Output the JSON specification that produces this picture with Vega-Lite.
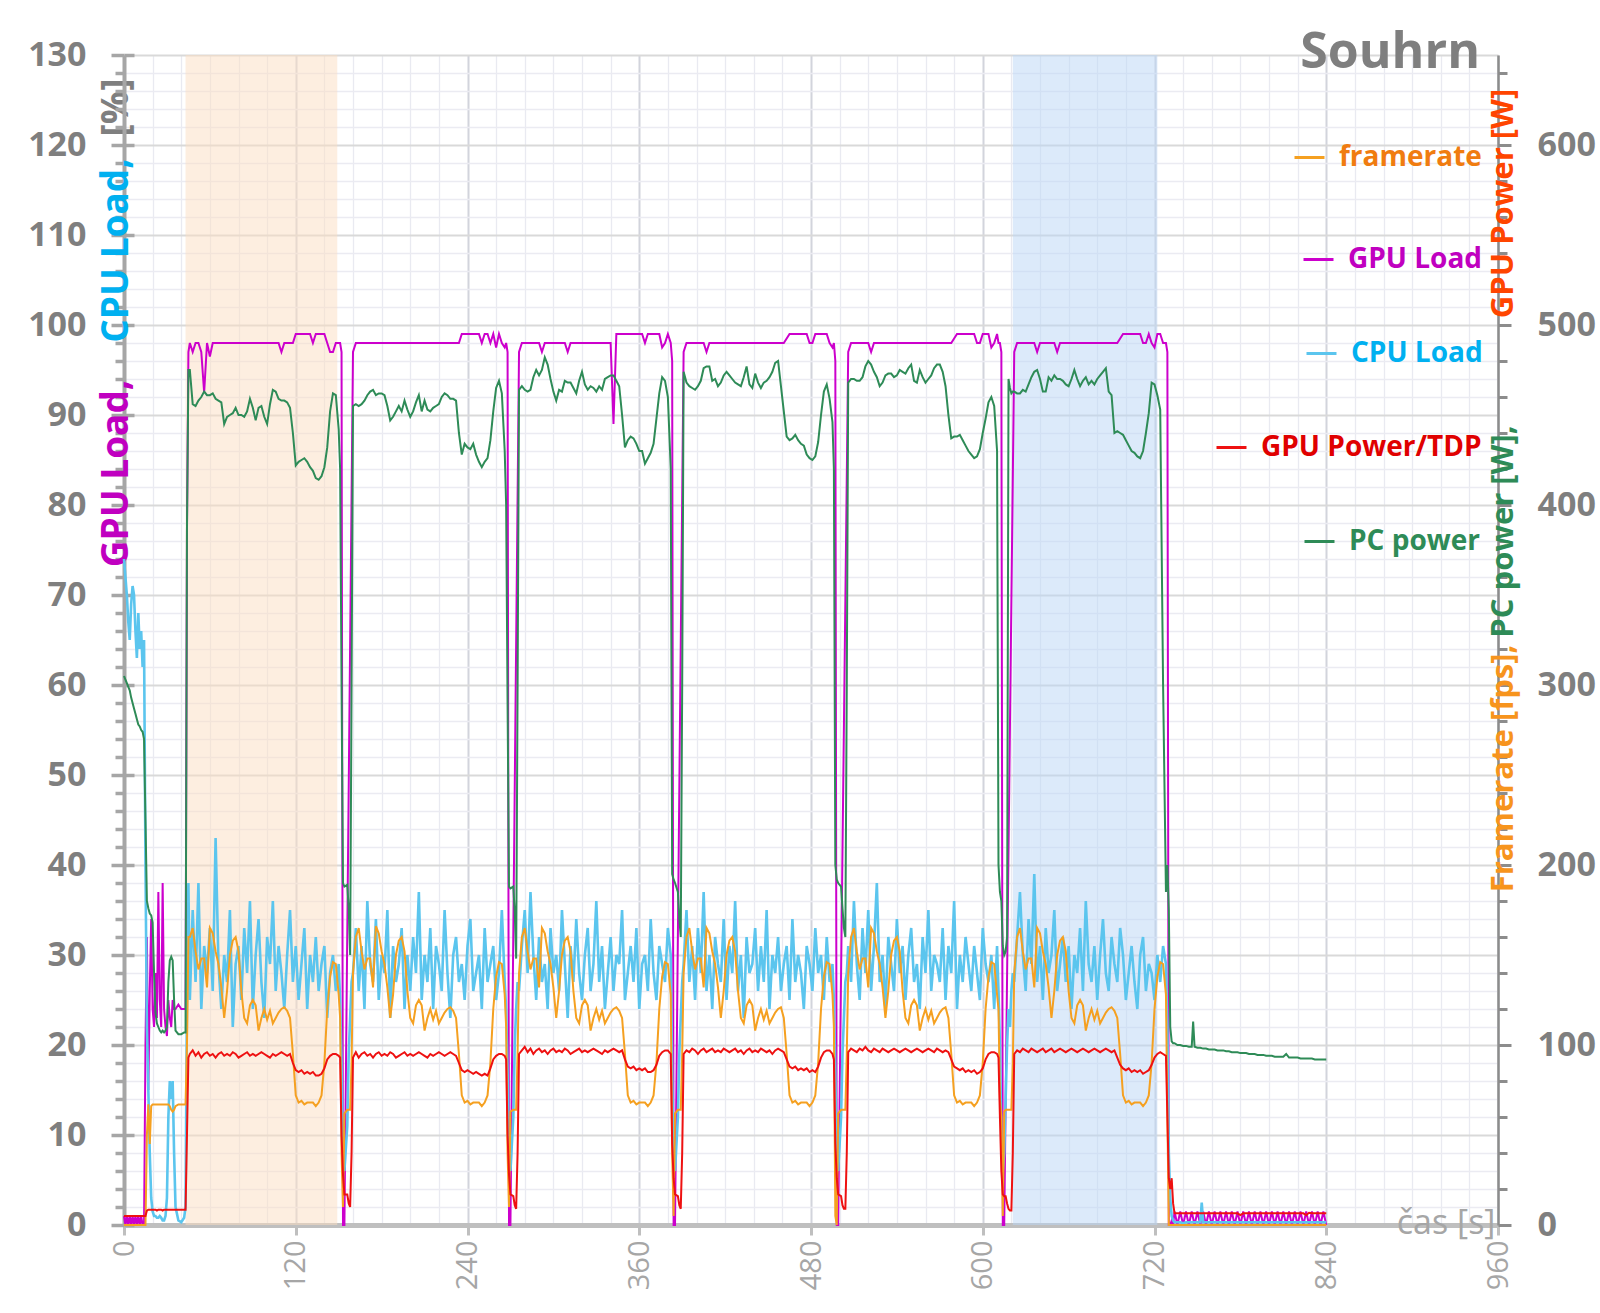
{
"$schema": "https://vega.github.io/schema/vega-lite/v6.json",
"width": 1374,
"height": 1170,
"autosize": {"type": "none"},
"padding": {"left": 124, "top": 55, "right": 102, "bottom": 88},
"background": "white",
"title": {"text": "Souhrn", "anchor": "end", "frame": "group", "orient": "top", "offset": 0, "baseline": "alphabetic", "dy": 80, "dx": -18, "fontSize": 50, "fontWeight": "bold", "color": "#7f7f7f", "font": "Open Sans"},
"config": {
  "view": {"stroke": null},
  "font": "Open Sans",
  "axis": {"labelFont": "Open Sans", "titleFont": "Open Sans"},
  "legend": {"symbolType": "stroke", "symbolSize": 900, "symbolStrokeWidth": 3, "labelFont": "Open Sans", "labelFontSize": 28, "labelFontWeight": "bold", "labelOffset": 13, "padding": 0, "labelLimit": 400}
},
"datasets": {
  "regions": [
    {"t": 43, "t2": 149, "phase": "orange"},
    {"t": 621, "t2": 722, "phase": "blue"}
  ],
  "series": [
{"t":0,"gpu":1,"cpu":74,"fps":0,"gpw":5,"pcw":305},
{"t":1,"gpu":0,"cpu":72,"fps":0,"gpw":5,"pcw":303},
{"t":2,"gpu":1,"cpu":70,"fps":0,"gpw":5,"pcw":301},
{"t":3,"gpu":0,"cpu":67,"fps":0,"gpw":5,"pcw":299},
{"t":4,"gpu":1,"cpu":65,"fps":0,"gpw":5,"pcw":297},
{"t":5,"gpu":0,"cpu":69,"fps":0,"gpw":5,"pcw":293},
{"t":6,"gpu":1,"cpu":71,"fps":0,"gpw":5,"pcw":290},
{"t":7,"gpu":0,"cpu":70,"fps":0,"gpw":5,"pcw":287},
{"t":8,"gpu":1,"cpu":66,"fps":0,"gpw":5,"pcw":284},
{"t":9,"gpu":0,"cpu":63,"fps":0,"gpw":5,"pcw":281},
{"t":10,"gpu":1,"cpu":68,"fps":0,"gpw":5,"pcw":278},
{"t":11,"gpu":0,"cpu":64,"fps":0,"gpw":5,"pcw":277},
{"t":12,"gpu":1,"cpu":66,"fps":0,"gpw":5,"pcw":275},
{"t":13,"gpu":0,"cpu":62,"fps":0,"gpw":5,"pcw":274},
{"t":14,"gpu":0,"cpu":65,"fps":0,"gpw":5,"pcw":270},
{"t":15,"gpu":20,"cpu":40,"fps":0,"gpw":5,"pcw":225},
{"t":16,"gpu":32,"cpu":22,"fps":50,"gpw":8,"pcw":180},
{"t":17,"gpu":15,"cpu":15,"fps":67,"gpw":8.5,"pcw":176},
{"t":18,"gpu":26,"cpu":8,"fps":45,"gpw":8.5,"pcw":173},
{"t":19,"gpu":34,"cpu":3,"fps":66,"gpw":8.5,"pcw":172},
{"t":20,"gpu":24,"cpu":1.5,"fps":67,"gpw":8.5,"pcw":168},
{"t":21,"gpu":22,"cpu":1,"fps":67,"gpw":8.5,"pcw":140},
{"t":22,"gpu":28,"cpu":1,"fps":67,"gpw":8.5,"pcw":118},
{"t":23,"gpu":23,"cpu":0.8,"fps":67,"gpw":8,"pcw":112},
{"t":24,"gpu":37,"cpu":0.8,"fps":67,"gpw":8.5,"pcw":110},
{"t":25,"gpu":25,"cpu":1,"fps":67,"gpw":8.5,"pcw":108},
{"t":26,"gpu":22,"cpu":0.8,"fps":67,"gpw":8.5,"pcw":107},
{"t":27,"gpu":38,"cpu":0.5,"fps":67,"gpw":8,"pcw":108},
{"t":28,"gpu":24,"cpu":0.5,"fps":67,"gpw":8.5,"pcw":107},
{"t":29,"gpu":22,"cpu":1,"fps":67,"gpw":8.5,"pcw":108},
{"t":30,"gpu":21,"cpu":3,"fps":67,"gpw":8.5,"pcw":110},
{"t":31,"gpu":25,"cpu":12,"fps":67,"gpw":8.5,"pcw":135},
{"t":32,"gpu":23,"cpu":16,"fps":66,"gpw":8.5,"pcw":147},
{"t":33,"gpu":22,"cpu":14,"fps":64,"gpw":8.5,"pcw":149},
{"t":34,"gpu":25,"cpu":16,"fps":63,"gpw":8.5,"pcw":147},
{"t":35,"gpu":24,"cpu":8,"fps":64,"gpw":8.5,"pcw":125},
{"t":36,"gpu":24,"cpu":2,"fps":66,"gpw":8.5,"pcw":108},
{"t":38,"gpu":24.5,"cpu":0.5,"fps":67,"gpw":8.5,"pcw":106},
{"t":40,"gpu":24,"cpu":0.3,"fps":67,"gpw":8.5,"pcw":106},
{"t":42,"gpu":24,"cpu":0.8,"fps":67,"gpw":8.5,"pcw":107},
{"t":43,"gpu":24,"cpu":2,"fps":67,"gpw":8.5,"pcw":107},
{"t":44,"gpu":77,"cpu":25,"fps":100,"gpw":50,"pcw":388},
{"t":45,"gpu":97,"cpu":38,"fps":160,"gpw":93,"pcw":475},
{"t":46,"gpu":98,"cpu":25,"fps":160,"gpw":95,"pcw":475},
{"t":48,"gpu":97,"cpu":35,"fps":165,"gpw":97,"pcw":456},
{"t":50,"gpu":98,"cpu":27,"fps":152,"gpw":94,"pcw":455},
{"t":52,"gpu":98,"cpu":38,"fps":142,"gpw":96,"pcw":458},
{"t":54,"gpu":97,"cpu":24,"fps":148,"gpw":93,"pcw":460},
{"t":56,"gpu":92.5,"cpu":31,"fps":148,"gpw":95,"pcw":463},
{"t":58,"gpu":98,"cpu":28,"fps":132,"gpw":96,"pcw":461},
{"t":60,"gpu":96.5,"cpu":33,"fps":165,"gpw":94,"pcw":461},
{"t":62,"gpu":98,"cpu":26,"fps":162,"gpw":95,"pcw":462},
{"t":64,"gpu":98,"cpu":43,"fps":152,"gpw":93,"pcw":459},
{"t":66,"gpu":98,"cpu":29,"fps":145,"gpw":95,"pcw":458},
{"t":68,"gpu":98,"cpu":24,"fps":132,"gpw":96,"pcw":457},
{"t":70,"gpu":98,"cpu":30,"fps":115,"gpw":94,"pcw":445},
{"t":72,"gpu":98,"cpu":27,"fps":130,"gpw":95,"pcw":449},
{"t":74,"gpu":98,"cpu":35,"fps":150,"gpw":94,"pcw":450},
{"t":76,"gpu":98,"cpu":22,"fps":158,"gpw":96,"pcw":451},
{"t":78,"gpu":98,"cpu":29,"fps":160,"gpw":95,"pcw":454},
{"t":80,"gpu":98,"cpu":31,"fps":152,"gpw":93,"pcw":450},
{"t":82,"gpu":98,"cpu":25,"fps":130,"gpw":94,"pcw":450},
{"t":84,"gpu":98,"cpu":33,"fps":115,"gpw":95,"pcw":449},
{"t":86,"gpu":98,"cpu":28,"fps":112,"gpw":96,"pcw":452},
{"t":88,"gpu":98,"cpu":36,"fps":122,"gpw":94,"pcw":459},
{"t":90,"gpu":98,"cpu":24,"fps":125,"gpw":95,"pcw":454},
{"t":92,"gpu":98,"cpu":30,"fps":122,"gpw":94,"pcw":447},
{"t":94,"gpu":98,"cpu":34,"fps":108,"gpw":95,"pcw":454},
{"t":96,"gpu":98,"cpu":27,"fps":115,"gpw":96,"pcw":455},
{"t":98,"gpu":98,"cpu":23,"fps":120,"gpw":95,"pcw":449},
{"t":100,"gpu":98,"cpu":32,"fps":114,"gpw":94,"pcw":445},
{"t":102,"gpu":98,"cpu":29,"fps":119,"gpw":93,"pcw":456},
{"t":104,"gpu":98,"cpu":36,"fps":112,"gpw":95,"pcw":464},
{"t":106,"gpu":98,"cpu":26,"fps":115,"gpw":94,"pcw":463},
{"t":108,"gpu":98,"cpu":31,"fps":118,"gpw":95,"pcw":459},
{"t":110,"gpu":97,"cpu":28,"fps":120,"gpw":96,"pcw":458},
{"t":112,"gpu":98,"cpu":24,"fps":121,"gpw":95,"pcw":458},
{"t":114,"gpu":98,"cpu":30,"fps":119,"gpw":94,"pcw":457},
{"t":116,"gpu":98,"cpu":35,"fps":115,"gpw":95,"pcw":454},
{"t":118,"gpu":98,"cpu":27,"fps":95,"gpw":90,"pcw":440},
{"t":120,"gpu":99,"cpu":31,"fps":72,"gpw":86,"pcw":422},
{"t":122,"gpu":99,"cpu":25,"fps":68,"gpw":85,"pcw":424},
{"t":124,"gpu":99,"cpu":29,"fps":69,"gpw":86,"pcw":425},
{"t":126,"gpu":99,"cpu":33,"fps":67,"gpw":84,"pcw":426},
{"t":128,"gpu":99,"cpu":24,"fps":68,"gpw":85,"pcw":424},
{"t":130,"gpu":99,"cpu":30,"fps":68,"gpw":84,"pcw":421},
{"t":132,"gpu":98,"cpu":27,"fps":68,"gpw":85,"pcw":419},
{"t":134,"gpu":99,"cpu":32,"fps":66,"gpw":83,"pcw":415},
{"t":136,"gpu":99,"cpu":26,"fps":68,"gpw":83,"pcw":414},
{"t":138,"gpu":99,"cpu":29,"fps":72,"gpw":84,"pcw":416},
{"t":140,"gpu":99,"cpu":31,"fps":90,"gpw":87,"pcw":421},
{"t":142,"gpu":98,"cpu":23,"fps":120,"gpw":92,"pcw":432},
{"t":144,"gpu":97,"cpu":28,"fps":138,"gpw":94,"pcw":452},
{"t":146,"gpu":97,"cpu":30,"fps":146,"gpw":95,"pcw":462},
{"t":148,"gpu":98,"cpu":26,"fps":145,"gpw":95,"pcw":461},
{"t":150,"gpu":98,"cpu":29,"fps":128,"gpw":94,"pcw":442},
{"t":151,"gpu":98,"cpu":25,"fps":115,"gpw":93,"pcw":420},
{"t":152,"gpu":97,"cpu":18,"fps":40,"gpw":50,"pcw":300},
{"t":153,"gpu":0,"cpu":7,"fps":10,"gpw":28,"pcw":190},
{"t":154,"gpu":0,"cpu":6,"fps":62,"gpw":17,"pcw":188},
{"t":156,"gpu":null,"cpu":11,"fps":64,"gpw":17,"pcw":189},
{"t":157,"gpu":null,"cpu":19,"fps":64,"gpw":12,"pcw":176},
{"t":158,"gpu":null,"cpu":23,"fps":64,"gpw":10,"pcw":150},
{"t":159,"gpu":null,"cpu":27,"fps":90,"gpw":40,"pcw":300},
{"t":160,"gpu":97,"cpu":28,"fps":140,"gpw":93,"pcw":455},
{"t":162,"gpu":98,"cpu":33,"fps":160,"gpw":96,"pcw":456},
{"t":164,"gpu":98,"cpu":26,"fps":165,"gpw":93,"pcw":455},
{"t":166,"gpu":98,"cpu":31,"fps":152,"gpw":95,"pcw":456},
{"t":168,"gpu":98,"cpu":24,"fps":142,"gpw":96,"pcw":458},
{"t":170,"gpu":98,"cpu":36,"fps":148,"gpw":94,"pcw":461},
{"t":172,"gpu":98,"cpu":29,"fps":148,"gpw":95,"pcw":463},
{"t":174,"gpu":98,"cpu":27,"fps":132,"gpw":93,"pcw":464},
{"t":176,"gpu":98,"cpu":34,"fps":166,"gpw":95,"pcw":461},
{"t":178,"gpu":98,"cpu":25,"fps":162,"gpw":96,"pcw":462},
{"t":180,"gpu":98,"cpu":30,"fps":152,"gpw":94,"pcw":462},
{"t":182,"gpu":98,"cpu":28,"fps":145,"gpw":95,"pcw":461},
{"t":184,"gpu":98,"cpu":35,"fps":132,"gpw":94,"pcw":455},
{"t":186,"gpu":98,"cpu":23,"fps":115,"gpw":96,"pcw":447},
{"t":188,"gpu":98,"cpu":31,"fps":128,"gpw":95,"pcw":449},
{"t":190,"gpu":98,"cpu":27,"fps":150,"gpw":93,"pcw":452},
{"t":192,"gpu":98,"cpu":29,"fps":158,"gpw":94,"pcw":455},
{"t":194,"gpu":98,"cpu":33,"fps":160,"gpw":95,"pcw":452},
{"t":196,"gpu":98,"cpu":24,"fps":152,"gpw":96,"pcw":458},
{"t":198,"gpu":98,"cpu":30,"fps":130,"gpw":94,"pcw":453},
{"t":200,"gpu":98,"cpu":26,"fps":115,"gpw":95,"pcw":449},
{"t":202,"gpu":98,"cpu":32,"fps":112,"gpw":94,"pcw":452},
{"t":204,"gpu":98,"cpu":28,"fps":122,"gpw":95,"pcw":457},
{"t":206,"gpu":98,"cpu":37,"fps":125,"gpw":96,"pcw":461},
{"t":208,"gpu":98,"cpu":25,"fps":122,"gpw":95,"pcw":452},
{"t":210,"gpu":98,"cpu":30,"fps":108,"gpw":94,"pcw":458},
{"t":212,"gpu":98,"cpu":27,"fps":115,"gpw":93,"pcw":453},
{"t":214,"gpu":98,"cpu":33,"fps":120,"gpw":95,"pcw":452},
{"t":216,"gpu":98,"cpu":24,"fps":114,"gpw":94,"pcw":454},
{"t":218,"gpu":98,"cpu":31,"fps":119,"gpw":95,"pcw":455},
{"t":220,"gpu":98,"cpu":29,"fps":112,"gpw":96,"pcw":456},
{"t":222,"gpu":98,"cpu":26,"fps":115,"gpw":95,"pcw":460},
{"t":224,"gpu":98,"cpu":35,"fps":118,"gpw":94,"pcw":462},
{"t":226,"gpu":98,"cpu":28,"fps":120,"gpw":95,"pcw":461},
{"t":228,"gpu":98,"cpu":23,"fps":121,"gpw":96,"pcw":459},
{"t":230,"gpu":98,"cpu":30,"fps":119,"gpw":95,"pcw":459},
{"t":232,"gpu":98,"cpu":32,"fps":115,"gpw":94,"pcw":458},
{"t":234,"gpu":98,"cpu":27,"fps":95,"gpw":90,"pcw":440},
{"t":236,"gpu":99,"cpu":29,"fps":72,"gpw":86,"pcw":428},
{"t":238,"gpu":99,"cpu":25,"fps":68,"gpw":85,"pcw":434},
{"t":240,"gpu":99,"cpu":31,"fps":69,"gpw":86,"pcw":432},
{"t":242,"gpu":99,"cpu":34,"fps":67,"gpw":85,"pcw":431},
{"t":244,"gpu":99,"cpu":26,"fps":68,"gpw":84,"pcw":434},
{"t":246,"gpu":99,"cpu":28,"fps":68,"gpw":85,"pcw":428},
{"t":248,"gpu":99,"cpu":30,"fps":68,"gpw":84,"pcw":424},
{"t":250,"gpu":98,"cpu":24,"fps":66,"gpw":83,"pcw":421},
{"t":252,"gpu":99,"cpu":33,"fps":68,"gpw":84,"pcw":424},
{"t":254,"gpu":99,"cpu":27,"fps":72,"gpw":83,"pcw":426},
{"t":256,"gpu":98,"cpu":29,"fps":90,"gpw":87,"pcw":436},
{"t":258,"gpu":99,"cpu":31,"fps":120,"gpw":92,"pcw":452},
{"t":260,"gpu":97.5,"cpu":25,"fps":138,"gpw":94,"pcw":465},
{"t":262,"gpu":99,"cpu":28,"fps":146,"gpw":95,"pcw":469},
{"t":264,"gpu":98,"cpu":35,"fps":145,"gpw":95,"pcw":462},
{"t":266,"gpu":97.5,"cpu":27,"fps":128,"gpw":94,"pcw":430},
{"t":267,"gpu":98,"cpu":24,"fps":110,"gpw":92,"pcw":400},
{"t":268,"gpu":97,"cpu":17,"fps":40,"gpw":50,"pcw":290},
{"t":269,"gpu":0,"cpu":7,"fps":10,"gpw":28,"pcw":188},
{"t":270,"gpu":0,"cpu":6,"fps":63,"gpw":17,"pcw":187},
{"t":272,"gpu":null,"cpu":12,"fps":64,"gpw":16,"pcw":188},
{"t":273,"gpu":null,"cpu":20,"fps":64,"gpw":11,"pcw":174},
{"t":274,"gpu":null,"cpu":24,"fps":64,"gpw":9,"pcw":148},
{"t":275,"gpu":null,"cpu":27,"fps":95,"gpw":40,"pcw":300},
{"t":276,"gpu":97,"cpu":26,"fps":140,"gpw":95,"pcw":464},
{"t":278,"gpu":98,"cpu":31,"fps":160,"gpw":97,"pcw":466},
{"t":280,"gpu":98,"cpu":35,"fps":165,"gpw":99,"pcw":464},
{"t":282,"gpu":98,"cpu":28,"fps":152,"gpw":96,"pcw":463},
{"t":284,"gpu":98,"cpu":37,"fps":142,"gpw":98,"pcw":464},
{"t":286,"gpu":98,"cpu":30,"fps":148,"gpw":95,"pcw":471},
{"t":288,"gpu":98,"cpu":25,"fps":148,"gpw":97,"pcw":475},
{"t":290,"gpu":98,"cpu":32,"fps":132,"gpw":98,"pcw":472},
{"t":292,"gpu":97,"cpu":27,"fps":165,"gpw":96,"pcw":475},
{"t":294,"gpu":98,"cpu":29,"fps":162,"gpw":97,"pcw":482},
{"t":296,"gpu":98,"cpu":24,"fps":152,"gpw":95,"pcw":478},
{"t":298,"gpu":98,"cpu":33,"fps":145,"gpw":97,"pcw":470},
{"t":300,"gpu":98,"cpu":28,"fps":132,"gpw":98,"pcw":463},
{"t":302,"gpu":98,"cpu":30,"fps":115,"gpw":96,"pcw":458},
{"t":304,"gpu":98,"cpu":26,"fps":130,"gpw":97,"pcw":464},
{"t":306,"gpu":98,"cpu":35,"fps":150,"gpw":96,"pcw":463},
{"t":308,"gpu":98,"cpu":29,"fps":158,"gpw":98,"pcw":469},
{"t":310,"gpu":97,"cpu":23,"fps":160,"gpw":97,"pcw":468},
{"t":312,"gpu":98,"cpu":31,"fps":152,"gpw":95,"pcw":468},
{"t":314,"gpu":98,"cpu":27,"fps":130,"gpw":96,"pcw":465},
{"t":316,"gpu":98,"cpu":34,"fps":115,"gpw":97,"pcw":462},
{"t":318,"gpu":98,"cpu":28,"fps":112,"gpw":98,"pcw":469},
{"t":320,"gpu":98,"cpu":25,"fps":122,"gpw":96,"pcw":474},
{"t":322,"gpu":98,"cpu":30,"fps":125,"gpw":97,"pcw":467},
{"t":324,"gpu":98,"cpu":33,"fps":122,"gpw":96,"pcw":464},
{"t":326,"gpu":98,"cpu":26,"fps":108,"gpw":97,"pcw":466},
{"t":328,"gpu":98,"cpu":29,"fps":115,"gpw":98,"pcw":465},
{"t":330,"gpu":98,"cpu":36,"fps":120,"gpw":97,"pcw":463},
{"t":332,"gpu":98,"cpu":27,"fps":114,"gpw":96,"pcw":466},
{"t":334,"gpu":98,"cpu":31,"fps":119,"gpw":95,"pcw":464},
{"t":336,"gpu":98,"cpu":24,"fps":112,"gpw":97,"pcw":470},
{"t":338,"gpu":98,"cpu":28,"fps":115,"gpw":96,"pcw":471},
{"t":340,"gpu":98,"cpu":32,"fps":118,"gpw":97,"pcw":472},
{"t":342,"gpu":89,"cpu":26,"fps":120,"gpw":98,"pcw":472},
{"t":344,"gpu":99,"cpu":30,"fps":121,"gpw":97,"pcw":469},
{"t":346,"gpu":99,"cpu":29,"fps":119,"gpw":96,"pcw":466},
{"t":348,"gpu":99,"cpu":35,"fps":115,"gpw":97,"pcw":450},
{"t":350,"gpu":99,"cpu":25,"fps":95,"gpw":92,"pcw":432},
{"t":352,"gpu":99,"cpu":28,"fps":72,"gpw":88,"pcw":436},
{"t":354,"gpu":99,"cpu":31,"fps":68,"gpw":87,"pcw":438},
{"t":356,"gpu":99,"cpu":27,"fps":69,"gpw":88,"pcw":437},
{"t":358,"gpu":99,"cpu":33,"fps":67,"gpw":86,"pcw":434},
{"t":360,"gpu":99,"cpu":24,"fps":68,"gpw":87,"pcw":430},
{"t":362,"gpu":99,"cpu":29,"fps":68,"gpw":86,"pcw":430},
{"t":364,"gpu":98,"cpu":30,"fps":68,"gpw":87,"pcw":423},
{"t":366,"gpu":99,"cpu":26,"fps":66,"gpw":85,"pcw":426},
{"t":368,"gpu":99,"cpu":34,"fps":68,"gpw":85,"pcw":429},
{"t":370,"gpu":99,"cpu":28,"fps":72,"gpw":86,"pcw":434},
{"t":372,"gpu":99,"cpu":25,"fps":90,"gpw":89,"pcw":448},
{"t":374,"gpu":99,"cpu":31,"fps":120,"gpw":94,"pcw":462},
{"t":376,"gpu":97.5,"cpu":29,"fps":138,"gpw":96,"pcw":471},
{"t":378,"gpu":98,"cpu":27,"fps":146,"gpw":97,"pcw":469},
{"t":380,"gpu":99,"cpu":33,"fps":145,"gpw":97,"pcw":460},
{"t":382,"gpu":98,"cpu":30,"fps":128,"gpw":95,"pcw":420},
{"t":383,"gpu":96,"cpu":17,"fps":40,"gpw":45,"pcw":195},
{"t":384,"gpu":0,"cpu":7,"fps":5,"gpw":26,"pcw":192},
{"t":385,"gpu":0,"cpu":6,"fps":62,"gpw":17,"pcw":190},
{"t":387,"gpu":null,"cpu":12,"fps":64,"gpw":16,"pcw":185},
{"t":388,"gpu":null,"cpu":19,"fps":64,"gpw":11,"pcw":170},
{"t":389,"gpu":null,"cpu":23,"fps":64,"gpw":9,"pcw":160},
{"t":390,"gpu":null,"cpu":27,"fps":95,"gpw":40,"pcw":300},
{"t":391,"gpu":97,"cpu":29,"fps":140,"gpw":95,"pcw":474},
{"t":393,"gpu":98,"cpu":35,"fps":160,"gpw":97,"pcw":468},
{"t":395,"gpu":98,"cpu":27,"fps":165,"gpw":96,"pcw":466},
{"t":397,"gpu":98,"cpu":31,"fps":152,"gpw":98,"pcw":465},
{"t":399,"gpu":98,"cpu":25,"fps":142,"gpw":97,"pcw":464},
{"t":401,"gpu":98,"cpu":33,"fps":148,"gpw":95,"pcw":466},
{"t":403,"gpu":98,"cpu":28,"fps":148,"gpw":97,"pcw":469},
{"t":405,"gpu":98,"cpu":37,"fps":132,"gpw":98,"pcw":476},
{"t":407,"gpu":97,"cpu":26,"fps":165,"gpw":96,"pcw":477},
{"t":409,"gpu":98,"cpu":30,"fps":162,"gpw":97,"pcw":477},
{"t":411,"gpu":98,"cpu":24,"fps":152,"gpw":98,"pcw":469},
{"t":413,"gpu":98,"cpu":32,"fps":145,"gpw":96,"pcw":470},
{"t":415,"gpu":98,"cpu":29,"fps":132,"gpw":97,"pcw":466},
{"t":417,"gpu":98,"cpu":27,"fps":115,"gpw":96,"pcw":468},
{"t":419,"gpu":98,"cpu":34,"fps":130,"gpw":98,"pcw":472},
{"t":421,"gpu":98,"cpu":25,"fps":150,"gpw":97,"pcw":474},
{"t":423,"gpu":98,"cpu":31,"fps":158,"gpw":96,"pcw":472},
{"t":425,"gpu":98,"cpu":28,"fps":160,"gpw":97,"pcw":470},
{"t":427,"gpu":98,"cpu":36,"fps":152,"gpw":98,"pcw":468},
{"t":429,"gpu":98,"cpu":26,"fps":130,"gpw":96,"pcw":467},
{"t":431,"gpu":98,"cpu":30,"fps":115,"gpw":97,"pcw":466},
{"t":433,"gpu":98,"cpu":23,"fps":112,"gpw":95,"pcw":471},
{"t":435,"gpu":98,"cpu":32,"fps":122,"gpw":97,"pcw":477},
{"t":437,"gpu":98,"cpu":28,"fps":125,"gpw":98,"pcw":467},
{"t":439,"gpu":98,"cpu":29,"fps":122,"gpw":96,"pcw":465},
{"t":441,"gpu":98,"cpu":33,"fps":108,"gpw":97,"pcw":473},
{"t":443,"gpu":98,"cpu":26,"fps":115,"gpw":96,"pcw":468},
{"t":445,"gpu":98,"cpu":31,"fps":120,"gpw":98,"pcw":465},
{"t":447,"gpu":98,"cpu":27,"fps":114,"gpw":97,"pcw":468},
{"t":449,"gpu":98,"cpu":35,"fps":119,"gpw":96,"pcw":469},
{"t":451,"gpu":98,"cpu":24,"fps":112,"gpw":97,"pcw":471},
{"t":453,"gpu":98,"cpu":30,"fps":115,"gpw":95,"pcw":474},
{"t":455,"gpu":98,"cpu":28,"fps":118,"gpw":97,"pcw":479},
{"t":457,"gpu":98,"cpu":32,"fps":120,"gpw":98,"pcw":480},
{"t":459,"gpu":98,"cpu":26,"fps":121,"gpw":97,"pcw":466},
{"t":461,"gpu":98,"cpu":29,"fps":115,"gpw":96,"pcw":452},
{"t":463,"gpu":98.5,"cpu":31,"fps":95,"gpw":92,"pcw":438},
{"t":465,"gpu":99,"cpu":25,"fps":72,"gpw":88,"pcw":436},
{"t":467,"gpu":99,"cpu":34,"fps":68,"gpw":87,"pcw":437},
{"t":469,"gpu":99,"cpu":27,"fps":69,"gpw":88,"pcw":439},
{"t":471,"gpu":99,"cpu":30,"fps":67,"gpw":86,"pcw":436},
{"t":473,"gpu":99,"cpu":28,"fps":68,"gpw":87,"pcw":434},
{"t":475,"gpu":99,"cpu":24,"fps":68,"gpw":86,"pcw":433},
{"t":477,"gpu":99,"cpu":31,"fps":68,"gpw":87,"pcw":428},
{"t":479,"gpu":98,"cpu":29,"fps":66,"gpw":85,"pcw":426},
{"t":481,"gpu":98,"cpu":26,"fps":68,"gpw":86,"pcw":425},
{"t":483,"gpu":99,"cpu":33,"fps":72,"gpw":85,"pcw":427},
{"t":485,"gpu":99,"cpu":28,"fps":90,"gpw":88,"pcw":435},
{"t":487,"gpu":99,"cpu":30,"fps":120,"gpw":93,"pcw":450},
{"t":489,"gpu":99,"cpu":25,"fps":138,"gpw":96,"pcw":463},
{"t":491,"gpu":99,"cpu":32,"fps":146,"gpw":97,"pcw":467},
{"t":493,"gpu":98,"cpu":27,"fps":145,"gpw":97,"pcw":459},
{"t":495,"gpu":97.5,"cpu":29,"fps":128,"gpw":95,"pcw":446},
{"t":496,"gpu":98,"cpu":25,"fps":110,"gpw":92,"pcw":420},
{"t":497,"gpu":96,"cpu":17,"fps":5,"gpw":45,"pcw":200},
{"t":498,"gpu":0,"cpu":7,"fps":0,"gpw":26,"pcw":192},
{"t":499,"gpu":0,"cpu":6,"fps":62,"gpw":17,"pcw":190},
{"t":501,"gpu":null,"cpu":12,"fps":64,"gpw":16,"pcw":188},
{"t":502,"gpu":null,"cpu":19,"fps":64,"gpw":11,"pcw":176},
{"t":503,"gpu":null,"cpu":23,"fps":64,"gpw":9,"pcw":165},
{"t":504,"gpu":null,"cpu":27,"fps":64,"gpw":9,"pcw":160},
{"t":505,"gpu":null,"cpu":28,"fps":95,"gpw":40,"pcw":300},
{"t":506,"gpu":97,"cpu":31,"fps":140,"gpw":96,"pcw":468},
{"t":508,"gpu":98,"cpu":27,"fps":160,"gpw":98,"pcw":470},
{"t":510,"gpu":98,"cpu":36,"fps":165,"gpw":97,"pcw":470},
{"t":512,"gpu":98,"cpu":29,"fps":152,"gpw":96,"pcw":469},
{"t":514,"gpu":98,"cpu":25,"fps":142,"gpw":98,"pcw":469},
{"t":516,"gpu":98,"cpu":33,"fps":148,"gpw":97,"pcw":471},
{"t":518,"gpu":98,"cpu":28,"fps":148,"gpw":99,"pcw":477},
{"t":520,"gpu":98,"cpu":35,"fps":132,"gpw":97,"pcw":480},
{"t":522,"gpu":97,"cpu":26,"fps":165,"gpw":96,"pcw":478},
{"t":524,"gpu":98,"cpu":31,"fps":162,"gpw":98,"pcw":474},
{"t":526,"gpu":98,"cpu":38,"fps":152,"gpw":97,"pcw":471},
{"t":528,"gpu":98,"cpu":27,"fps":145,"gpw":96,"pcw":466},
{"t":530,"gpu":98,"cpu":30,"fps":132,"gpw":98,"pcw":468},
{"t":532,"gpu":98,"cpu":24,"fps":115,"gpw":97,"pcw":472},
{"t":534,"gpu":98,"cpu":32,"fps":130,"gpw":96,"pcw":473},
{"t":536,"gpu":98,"cpu":29,"fps":150,"gpw":97,"pcw":473},
{"t":538,"gpu":98,"cpu":26,"fps":158,"gpw":98,"pcw":471},
{"t":540,"gpu":98,"cpu":34,"fps":160,"gpw":97,"pcw":472},
{"t":542,"gpu":98,"cpu":28,"fps":152,"gpw":96,"pcw":475},
{"t":544,"gpu":98,"cpu":31,"fps":130,"gpw":97,"pcw":474},
{"t":546,"gpu":98,"cpu":25,"fps":115,"gpw":98,"pcw":473},
{"t":548,"gpu":98,"cpu":30,"fps":112,"gpw":97,"pcw":476},
{"t":550,"gpu":98,"cpu":33,"fps":122,"gpw":96,"pcw":478},
{"t":552,"gpu":98,"cpu":27,"fps":125,"gpw":97,"pcw":469},
{"t":554,"gpu":98,"cpu":29,"fps":122,"gpw":98,"pcw":468},
{"t":556,"gpu":98,"cpu":24,"fps":108,"gpw":97,"pcw":475},
{"t":558,"gpu":98,"cpu":32,"fps":115,"gpw":96,"pcw":471},
{"t":560,"gpu":98,"cpu":28,"fps":120,"gpw":97,"pcw":468},
{"t":562,"gpu":98,"cpu":35,"fps":114,"gpw":98,"pcw":470},
{"t":564,"gpu":98,"cpu":26,"fps":119,"gpw":97,"pcw":472},
{"t":566,"gpu":98,"cpu":30,"fps":112,"gpw":96,"pcw":476},
{"t":568,"gpu":98,"cpu":29,"fps":115,"gpw":98,"pcw":478},
{"t":570,"gpu":98,"cpu":27,"fps":118,"gpw":97,"pcw":478},
{"t":572,"gpu":98,"cpu":33,"fps":120,"gpw":96,"pcw":474},
{"t":574,"gpu":98,"cpu":25,"fps":121,"gpw":97,"pcw":466},
{"t":576,"gpu":98,"cpu":31,"fps":115,"gpw":96,"pcw":450},
{"t":578,"gpu":98,"cpu":28,"fps":95,"gpw":92,"pcw":437},
{"t":580,"gpu":98.5,"cpu":36,"fps":72,"gpw":88,"pcw":438},
{"t":582,"gpu":99,"cpu":24,"fps":68,"gpw":87,"pcw":438},
{"t":584,"gpu":99,"cpu":30,"fps":69,"gpw":86,"pcw":439},
{"t":586,"gpu":99,"cpu":27,"fps":67,"gpw":87,"pcw":436},
{"t":588,"gpu":99,"cpu":32,"fps":68,"gpw":85,"pcw":433},
{"t":590,"gpu":99,"cpu":29,"fps":68,"gpw":86,"pcw":430},
{"t":592,"gpu":99,"cpu":26,"fps":68,"gpw":85,"pcw":428},
{"t":594,"gpu":99,"cpu":31,"fps":66,"gpw":86,"pcw":426},
{"t":596,"gpu":98,"cpu":28,"fps":68,"gpw":84,"pcw":427},
{"t":598,"gpu":98,"cpu":25,"fps":72,"gpw":85,"pcw":431},
{"t":600,"gpu":99,"cpu":33,"fps":90,"gpw":87,"pcw":440},
{"t":602,"gpu":99,"cpu":29,"fps":120,"gpw":92,"pcw":448},
{"t":604,"gpu":99,"cpu":27,"fps":138,"gpw":95,"pcw":457},
{"t":606,"gpu":97.5,"cpu":30,"fps":146,"gpw":96,"pcw":460},
{"t":608,"gpu":98,"cpu":24,"fps":145,"gpw":96,"pcw":455},
{"t":610,"gpu":99,"cpu":31,"fps":128,"gpw":95,"pcw":430},
{"t":611,"gpu":98,"cpu":26,"fps":120,"gpw":93,"pcw":200},
{"t":612,"gpu":98,"cpu":20,"fps":70,"gpw":60,"pcw":185},
{"t":613,"gpu":97,"cpu":10,"fps":60,"gpw":30,"pcw":180},
{"t":614,"gpu":0,"cpu":6,"fps":5,"gpw":17,"pcw":155},
{"t":615,"gpu":0,"cpu":8,"fps":63,"gpw":16,"pcw":150},
{"t":616,"gpu":null,"cpu":14,"fps":64,"gpw":16,"pcw":152},
{"t":617,"gpu":null,"cpu":20,"fps":64,"gpw":12,"pcw":160},
{"t":618,"gpu":null,"cpu":24,"fps":64,"gpw":9,"pcw":470},
{"t":619,"gpu":null,"cpu":22,"fps":64,"gpw":8,"pcw":465},
{"t":620,"gpu":null,"cpu":26,"fps":64,"gpw":8,"pcw":462},
{"t":621,"gpu":null,"cpu":28,"fps":90,"gpw":40,"pcw":463},
{"t":622,"gpu":97,"cpu":27,"fps":140,"gpw":95,"pcw":463},
{"t":624,"gpu":98,"cpu":32,"fps":160,"gpw":97,"pcw":462},
{"t":626,"gpu":98,"cpu":37,"fps":165,"gpw":96,"pcw":462},
{"t":628,"gpu":98,"cpu":30,"fps":152,"gpw":98,"pcw":464},
{"t":630,"gpu":98,"cpu":26,"fps":142,"gpw":97,"pcw":463},
{"t":632,"gpu":98,"cpu":34,"fps":148,"gpw":96,"pcw":467},
{"t":634,"gpu":98,"cpu":29,"fps":148,"gpw":98,"pcw":471},
{"t":636,"gpu":98,"cpu":39,"fps":132,"gpw":97,"pcw":474},
{"t":638,"gpu":97,"cpu":27,"fps":165,"gpw":96,"pcw":475},
{"t":640,"gpu":98,"cpu":31,"fps":162,"gpw":97,"pcw":470},
{"t":642,"gpu":98,"cpu":25,"fps":152,"gpw":98,"pcw":463},
{"t":644,"gpu":98,"cpu":33,"fps":145,"gpw":96,"pcw":463},
{"t":646,"gpu":98,"cpu":28,"fps":132,"gpw":97,"pcw":471},
{"t":648,"gpu":98,"cpu":30,"fps":115,"gpw":98,"pcw":469},
{"t":650,"gpu":98,"cpu":35,"fps":130,"gpw":96,"pcw":472},
{"t":652,"gpu":97,"cpu":26,"fps":150,"gpw":97,"pcw":470},
{"t":654,"gpu":98,"cpu":29,"fps":158,"gpw":98,"pcw":470},
{"t":656,"gpu":98,"cpu":32,"fps":160,"gpw":97,"pcw":469},
{"t":658,"gpu":98,"cpu":27,"fps":152,"gpw":96,"pcw":467},
{"t":660,"gpu":98,"cpu":31,"fps":130,"gpw":97,"pcw":466},
{"t":662,"gpu":98,"cpu":24,"fps":115,"gpw":98,"pcw":470},
{"t":664,"gpu":98,"cpu":30,"fps":112,"gpw":97,"pcw":475},
{"t":666,"gpu":98,"cpu":28,"fps":122,"gpw":96,"pcw":470},
{"t":668,"gpu":98,"cpu":33,"fps":125,"gpw":97,"pcw":466},
{"t":670,"gpu":98,"cpu":26,"fps":122,"gpw":98,"pcw":469},
{"t":672,"gpu":98,"cpu":36,"fps":108,"gpw":97,"pcw":471},
{"t":674,"gpu":98,"cpu":29,"fps":115,"gpw":96,"pcw":467},
{"t":676,"gpu":98,"cpu":27,"fps":120,"gpw":97,"pcw":469},
{"t":678,"gpu":98,"cpu":31,"fps":114,"gpw":98,"pcw":467},
{"t":680,"gpu":98,"cpu":25,"fps":119,"gpw":97,"pcw":470},
{"t":682,"gpu":98,"cpu":30,"fps":112,"gpw":96,"pcw":472},
{"t":684,"gpu":98,"cpu":34,"fps":115,"gpw":97,"pcw":474},
{"t":686,"gpu":98,"cpu":28,"fps":118,"gpw":98,"pcw":476},
{"t":688,"gpu":98,"cpu":26,"fps":120,"gpw":97,"pcw":463},
{"t":690,"gpu":98,"cpu":32,"fps":121,"gpw":96,"pcw":461},
{"t":692,"gpu":98,"cpu":29,"fps":119,"gpw":97,"pcw":440},
{"t":694,"gpu":98,"cpu":27,"fps":115,"gpw":93,"pcw":441},
{"t":696,"gpu":98.5,"cpu":33,"fps":95,"gpw":89,"pcw":440},
{"t":698,"gpu":99,"cpu":30,"fps":72,"gpw":87,"pcw":439},
{"t":700,"gpu":99,"cpu":25,"fps":68,"gpw":86,"pcw":436},
{"t":702,"gpu":99,"cpu":28,"fps":69,"gpw":87,"pcw":433},
{"t":704,"gpu":99,"cpu":31,"fps":67,"gpw":85,"pcw":430},
{"t":706,"gpu":99,"cpu":27,"fps":68,"gpw":86,"pcw":429},
{"t":708,"gpu":99,"cpu":24,"fps":68,"gpw":85,"pcw":427},
{"t":710,"gpu":99,"cpu":30,"fps":68,"gpw":86,"pcw":426},
{"t":712,"gpu":98,"cpu":32,"fps":66,"gpw":84,"pcw":430},
{"t":714,"gpu":98,"cpu":26,"fps":68,"gpw":85,"pcw":440},
{"t":716,"gpu":99,"cpu":29,"fps":72,"gpw":86,"pcw":451},
{"t":718,"gpu":98,"cpu":28,"fps":90,"gpw":89,"pcw":468},
{"t":720,"gpu":97.5,"cpu":25,"fps":120,"gpw":93,"pcw":467},
{"t":722,"gpu":99,"cpu":30,"fps":138,"gpw":95,"pcw":461},
{"t":724,"gpu":99,"cpu":27,"fps":146,"gpw":96,"pcw":453},
{"t":726,"gpu":98,"cpu":31,"fps":145,"gpw":95,"pcw":300},
{"t":728,"gpu":98,"cpu":29,"fps":128,"gpw":94,"pcw":185},
{"t":729,"gpu":97,"cpu":22,"fps":60,"gpw":60,"pcw":200},
{"t":730,"gpu":0,"cpu":8,"fps":0,"gpw":26,"pcw":175},
{"t":731,"gpu":0,"cpu":3,"fps":0,"gpw":20,"pcw":110},
{"t":732,"gpu":0.5,"cpu":1,"fps":0,"gpw":26,"pcw":102},
{"t":733,"gpu":0,"cpu":0.5,"fps":0,"gpw":12,"pcw":101},
{"t":734,"gpu":1.5,"cpu":0.3,"fps":0,"gpw":6.5,"pcw":101},
{"t":736,"gpu":0,"cpu":0.3,"fps":0,"gpw":6.5,"pcw":100},
{"t":738,"gpu":1.5,"cpu":0.3,"fps":0,"gpw":6.5,"pcw":100},
{"t":740,"gpu":0,"cpu":0.2,"fps":0,"gpw":6.5,"pcw":99.5},
{"t":742,"gpu":1.5,"cpu":0.3,"fps":0,"gpw":6.5,"pcw":99.5},
{"t":744,"gpu":0,"cpu":0.3,"fps":0,"gpw":6.5,"pcw":99},
{"t":746,"gpu":1.5,"cpu":0.3,"fps":0,"gpw":6.5,"pcw":99},
{"t":747,"gpu":null,"cpu":null,"fps":null,"gpw":null,"pcw":113},
{"t":748,"gpu":0,"cpu":0.3,"fps":0,"gpw":6.5,"pcw":99},
{"t":750,"gpu":1.5,"cpu":0.3,"fps":0,"gpw":6.5,"pcw":98.5},
{"t":752,"gpu":0,"cpu":0.3,"fps":0,"gpw":6.5,"pcw":98.5},
{"t":753,"gpu":null,"cpu":2.5,"fps":null,"gpw":null,"pcw":null},
{"t":754,"gpu":1.5,"cpu":0.3,"fps":0,"gpw":6.5,"pcw":98},
{"t":756,"gpu":0,"cpu":0.3,"fps":0,"gpw":6.5,"pcw":98},
{"t":758,"gpu":1.5,"cpu":0.3,"fps":0,"gpw":6.5,"pcw":97.5},
{"t":760,"gpu":0,"cpu":0.3,"fps":0,"gpw":6.5,"pcw":97.5},
{"t":762,"gpu":1.5,"cpu":0.3,"fps":0,"gpw":6.5,"pcw":97.5},
{"t":764,"gpu":0,"cpu":0.3,"fps":0,"gpw":6.5,"pcw":97},
{"t":766,"gpu":1.5,"cpu":0.3,"fps":0,"gpw":6.5,"pcw":97},
{"t":768,"gpu":0,"cpu":0.3,"fps":0,"gpw":6.5,"pcw":97},
{"t":770,"gpu":1.5,"cpu":0.3,"fps":0,"gpw":6.5,"pcw":96.5},
{"t":772,"gpu":0,"cpu":0.3,"fps":0,"gpw":6.5,"pcw":96.5},
{"t":774,"gpu":1.5,"cpu":0.3,"fps":0,"gpw":6.5,"pcw":96},
{"t":776,"gpu":0,"cpu":0.3,"fps":0,"gpw":6.5,"pcw":96},
{"t":778,"gpu":1.5,"cpu":0.3,"fps":0,"gpw":6.5,"pcw":96},
{"t":780,"gpu":0,"cpu":0.3,"fps":0,"gpw":5.5,"pcw":95.5},
{"t":782,"gpu":1.5,"cpu":0.3,"fps":0,"gpw":6.5,"pcw":95.5},
{"t":784,"gpu":0,"cpu":0.3,"fps":0,"gpw":6.5,"pcw":95.5},
{"t":786,"gpu":1.5,"cpu":0.3,"fps":0,"gpw":6.5,"pcw":95},
{"t":788,"gpu":0,"cpu":0.3,"fps":0,"gpw":6.5,"pcw":95},
{"t":790,"gpu":1.5,"cpu":0.3,"fps":0,"gpw":6.5,"pcw":95},
{"t":792,"gpu":0,"cpu":0.3,"fps":0,"gpw":6.5,"pcw":94.5},
{"t":794,"gpu":1.5,"cpu":0.3,"fps":0,"gpw":6.5,"pcw":94.5},
{"t":796,"gpu":0,"cpu":0.3,"fps":0,"gpw":6.5,"pcw":94.5},
{"t":798,"gpu":1.5,"cpu":0.3,"fps":0,"gpw":6.5,"pcw":94},
{"t":800,"gpu":0,"cpu":0.3,"fps":0,"gpw":6.5,"pcw":94},
{"t":802,"gpu":1.5,"cpu":0.3,"fps":0,"gpw":6.5,"pcw":94},
{"t":804,"gpu":0,"cpu":0.3,"fps":0,"gpw":6.5,"pcw":93.5},
{"t":806,"gpu":1.5,"cpu":0.3,"fps":0,"gpw":6.5,"pcw":93.5},
{"t":808,"gpu":0,"cpu":0.3,"fps":0,"gpw":6.5,"pcw":93.5},
{"t":810,"gpu":1.5,"cpu":0.3,"fps":0,"gpw":6.5,"pcw":93.5},
{"t":812,"gpu":0,"cpu":0.3,"fps":0,"gpw":6.5,"pcw":95},
{"t":814,"gpu":1.5,"cpu":0.3,"fps":0,"gpw":6.5,"pcw":93},
{"t":816,"gpu":0,"cpu":0.3,"fps":0,"gpw":6.5,"pcw":93},
{"t":818,"gpu":1.5,"cpu":0.3,"fps":0,"gpw":6.5,"pcw":93},
{"t":820,"gpu":0,"cpu":0.3,"fps":0,"gpw":6.5,"pcw":93},
{"t":822,"gpu":1.5,"cpu":0.3,"fps":0,"gpw":6.5,"pcw":92.5},
{"t":824,"gpu":0,"cpu":0.3,"fps":0,"gpw":6.5,"pcw":92.5},
{"t":826,"gpu":1.5,"cpu":0.3,"fps":0,"gpw":5.5,"pcw":92.5},
{"t":828,"gpu":0,"cpu":0.3,"fps":0,"gpw":6.8,"pcw":92.5},
{"t":830,"gpu":1.5,"cpu":0.3,"fps":0,"gpw":6.5,"pcw":92.5},
{"t":832,"gpu":0,"cpu":0.3,"fps":0,"gpw":6.5,"pcw":92},
{"t":834,"gpu":1.5,"cpu":0.3,"fps":0,"gpw":6.5,"pcw":92},
{"t":836,"gpu":0,"cpu":0.3,"fps":0,"gpw":6.5,"pcw":92},
{"t":838,"gpu":1.5,"cpu":0.3,"fps":0,"gpw":6.5,"pcw":92},
{"t":840,"gpu":0,"cpu":0.3,"fps":0,"gpw":6.5,"pcw":92}
  ]
},
"encoding": {
  "x": {"field": "t", "type": "quantitative", "scale": {"domain": [0, 960], "nice": false, "zero": false},
    "axis": {
      "values": [0,20,40,60,80,100,120,140,160,180,200,220,240,260,280,300,320,340,360,380,400,420,440,460,480,500,520,540,560,580,600,620,640,660,680,700,720,740,760,780,800,820,840,860,880,900,920,940,960],
      "title": "čas [s]", "titleX": 1371, "titleY": -2, "titleAlign": "right", "titleBaseline": "middle", "titleAngle": 0,
      "titleFontSize": 34, "titleFontWeight": "normal", "titleColor": "#a6a6a6",
      "labelExpr": "datum.value % 120 === 0 ? datum.label : ''",
      "labelAngle": -90, "labelAlign": "right", "labelBaseline": "middle",
      "labelFontSize": 29, "labelFontWeight": "normal", "labelColor": "#a6a6a6", "labelPadding": 5,
      "labelOverlap": false, "labelFlush": false, "labelBound": false,
      "tickSize": 10, "tickWidth": 3, "tickColor": "#bfbfbf",
      "tickOpacity": {"condition": {"test": "datum.value % 120 === 0", "value": 1}, "value": 0},
      "domainColor": "#bfbfbf", "domainWidth": 5,
      "grid": true,
      "gridColor": {"condition": {"test": "datum.value % 120 === 0", "value": "#d2d4dc"}, "value": "#e9eaf1"},
      "gridWidth": {"condition": {"test": "datum.value % 120 === 0", "value": 2}, "value": 1.3}
    }
  }
},
"layer": [
  {
    "data": {"name": "regions"},
    "mark": {"type": "rect", "opacity": 0.5},
    "encoding": {
      "x2": {"field": "t2"},
      "y": {"datum": 0, "type": "quantitative", "scale": {"domain": [0, 130], "nice": false},
        "axis": {"orient": "left", "values": [0,10,20,30,40,50,60,70,80,90,100,110,120,130], "labels": false, "ticks": true, "tickSize": -10, "tickWidth": 3.5, "tickColor": "#a6a6a6", "domain": false, "grid": false,
          "title": "[%]", "titleColor": "#7f7f7f", "titleFontSize": 37, "titleFontWeight": "bold", "titleAngle": 270, "titleX": -8, "titleY": 52, "titleAlign": "center", "titleBaseline": "middle"}},
      "y2": {"datum": 130},
      "color": {"field": "phase", "type": "nominal", "scale": {"domain": ["orange", "blue"], "range": ["#fbddc1", "#b9d5f5"]}, "legend": null}
    }
  },
  {
    "data": {"name": "series"},
    "transform": [{"filter": "isValid(datum.gpu)"}],
    "mark": {"type": "line", "strokeWidth": 2},
    "encoding": {
      "y": {"field": "gpu", "type": "quantitative", "scale": {"domain": [0, 130], "nice": false},
        "axis": {"orient": "left",
          "values": [0,2,4,6,8,10,12,14,16,18,20,22,24,26,28,30,32,34,36,38,40,42,44,46,48,50,52,54,56,58,60,62,64,66,68,70,72,74,76,78,80,82,84,86,88,90,92,94,96,98,100,102,104,106,108,110,112,114,116,118,120,122,124,126,128,130],
          "labelExpr": "datum.value % 10 === 0 ? datum.label : ''",
          "labelFontSize": 34, "labelFontWeight": "bold", "labelColor": "#7f7f7f", "labelPadding": 25,
          "tickSize": {"condition": {"test": "datum.value % 10 === 0", "value": 13}, "value": 9},
          "tickWidth": 3.5, "tickColor": "#a6a6a6",
          "domainColor": "#a6a6a6", "domainWidth": 4,
          "grid": true,
          "gridColor": {"condition": {"test": "datum.value % 10 === 0", "value": "#d9d9d9"}, "value": "#ebebf2"},
          "gridWidth": {"condition": {"test": "datum.value % 10 === 0", "value": 2}, "value": 1.3},
          "title": "GPU Load,", "titleColor": "#c000c0", "titleFontSize": 37, "titleFontWeight": "bold", "titleAngle": 270, "titleX": -8, "titleY": 418, "titleAlign": "center", "titleBaseline": "middle"}},
      "color": {"datum": "GPU Load", "type": "nominal", "scale": {"range": ["#cc00cc"]},
        "legend": {"title": null, "orient": "none", "legendX": 1178, "legendY": 188, "labelColor": "#c000c0"}}
    }
  },
  {
    "data": {"name": "series"},
    "transform": [{"filter": "isValid(datum.cpu)"}],
    "mark": {"type": "line", "strokeWidth": 2.6},
    "encoding": {
      "y": {"field": "cpu", "type": "quantitative", "scale": {"domain": [0, 130], "nice": false},
        "axis": {"orient": "left", "labels": false, "ticks": false, "domain": false, "grid": false,
          "title": "CPU Load,", "titleColor": "#00b0f0", "titleFontSize": 37, "titleFontWeight": "bold", "titleAngle": 270, "titleX": -8, "titleY": 195, "titleAlign": "center", "titleBaseline": "middle"}},
      "color": {"datum": "CPU Load", "type": "nominal", "scale": {"range": ["#5bc5ee"]},
        "legend": {"title": null, "orient": "none", "legendX": 1181, "legendY": 282, "labelColor": "#00b0f0"}}
    }
  },
  {
    "data": {"name": "series"},
    "transform": [{"filter": "isValid(datum.fps)"}],
    "mark": {"type": "line", "strokeWidth": 2},
    "encoding": {
      "y": {"field": "fps", "type": "quantitative", "scale": {"domain": [0, 650], "nice": false},
        "axis": {"orient": "right",
          "values": [0,20,40,60,80,100,120,140,160,180,200,220,240,260,280,300,320,340,360,380,400,420,440,460,480,500,520,540,560,580,600,620,640],
          "labelExpr": "datum.value % 100 === 0 ? datum.label : ''",
          "labelFontSize": 34, "labelFontWeight": "bold", "labelColor": "#7f7f7f", "labelPadding": 26,
          "tickSize": {"condition": {"test": "datum.value % 100 === 0", "value": 13}, "value": 9},
          "tickWidth": 3, "tickColor": "#8c8c8c",
          "domainColor": "#8c8c8c", "domainWidth": 2.5,
          "grid": false,
          "title": "Framerate [fps],", "titleColor": "#f7941d", "titleFontSize": 31, "titleFontWeight": "bold", "titleAngle": 270, "titleX": 5, "titleY": 713, "titleAlign": "center", "titleBaseline": "middle"}},
      "color": {"datum": "framerate", "type": "nominal", "scale": {"range": ["#f5a020"]},
        "legend": {"title": null, "orient": "none", "legendX": 1169, "legendY": 86, "labelColor": "#f07c10"}}
    }
  },
  {
    "data": {"name": "series"},
    "transform": [{"filter": "isValid(datum.gpw)"}],
    "mark": {"type": "line", "strokeWidth": 2},
    "encoding": {
      "y": {"field": "gpw", "type": "quantitative", "scale": {"domain": [0, 650], "nice": false},
        "axis": {"orient": "right", "labels": false, "ticks": false, "domain": false, "grid": false,
          "title": "GPU Power [W]", "titleColor": "#ff4500", "titleFontSize": 31, "titleFontWeight": "bold", "titleAngle": 270, "titleX": 5, "titleY": 148, "titleAlign": "center", "titleBaseline": "middle"}},
      "color": {"datum": "GPU Power/TDP", "type": "nominal", "scale": {"range": ["#ee1111"]},
        "legend": {"title": null, "orient": "none", "legendX": 1091, "legendY": 376, "labelColor": "#e00000"}}
    }
  },
  {
    "data": {"name": "series"},
    "transform": [{"filter": "isValid(datum.pcw)"}],
    "mark": {"type": "line", "strokeWidth": 2},
    "encoding": {
      "y": {"field": "pcw", "type": "quantitative", "scale": {"domain": [0, 650], "nice": false},
        "axis": {"orient": "right", "labels": false, "ticks": false, "domain": false, "grid": false,
          "title": "PC power [W],", "titleColor": "#2e8b57", "titleFontSize": 31, "titleFontWeight": "bold", "titleAngle": 270, "titleX": 5, "titleY": 476, "titleAlign": "center", "titleBaseline": "middle"}},
      "color": {"datum": "PC power", "type": "nominal", "scale": {"range": ["#2e8b57"]},
        "legend": {"title": null, "orient": "none", "legendX": 1179, "legendY": 470, "labelColor": "#2e8b57"}}
    }
  }
],
"resolve": {"scale": {"y": "independent", "color": "independent"}, "axis": {"y": "independent"}}
}
